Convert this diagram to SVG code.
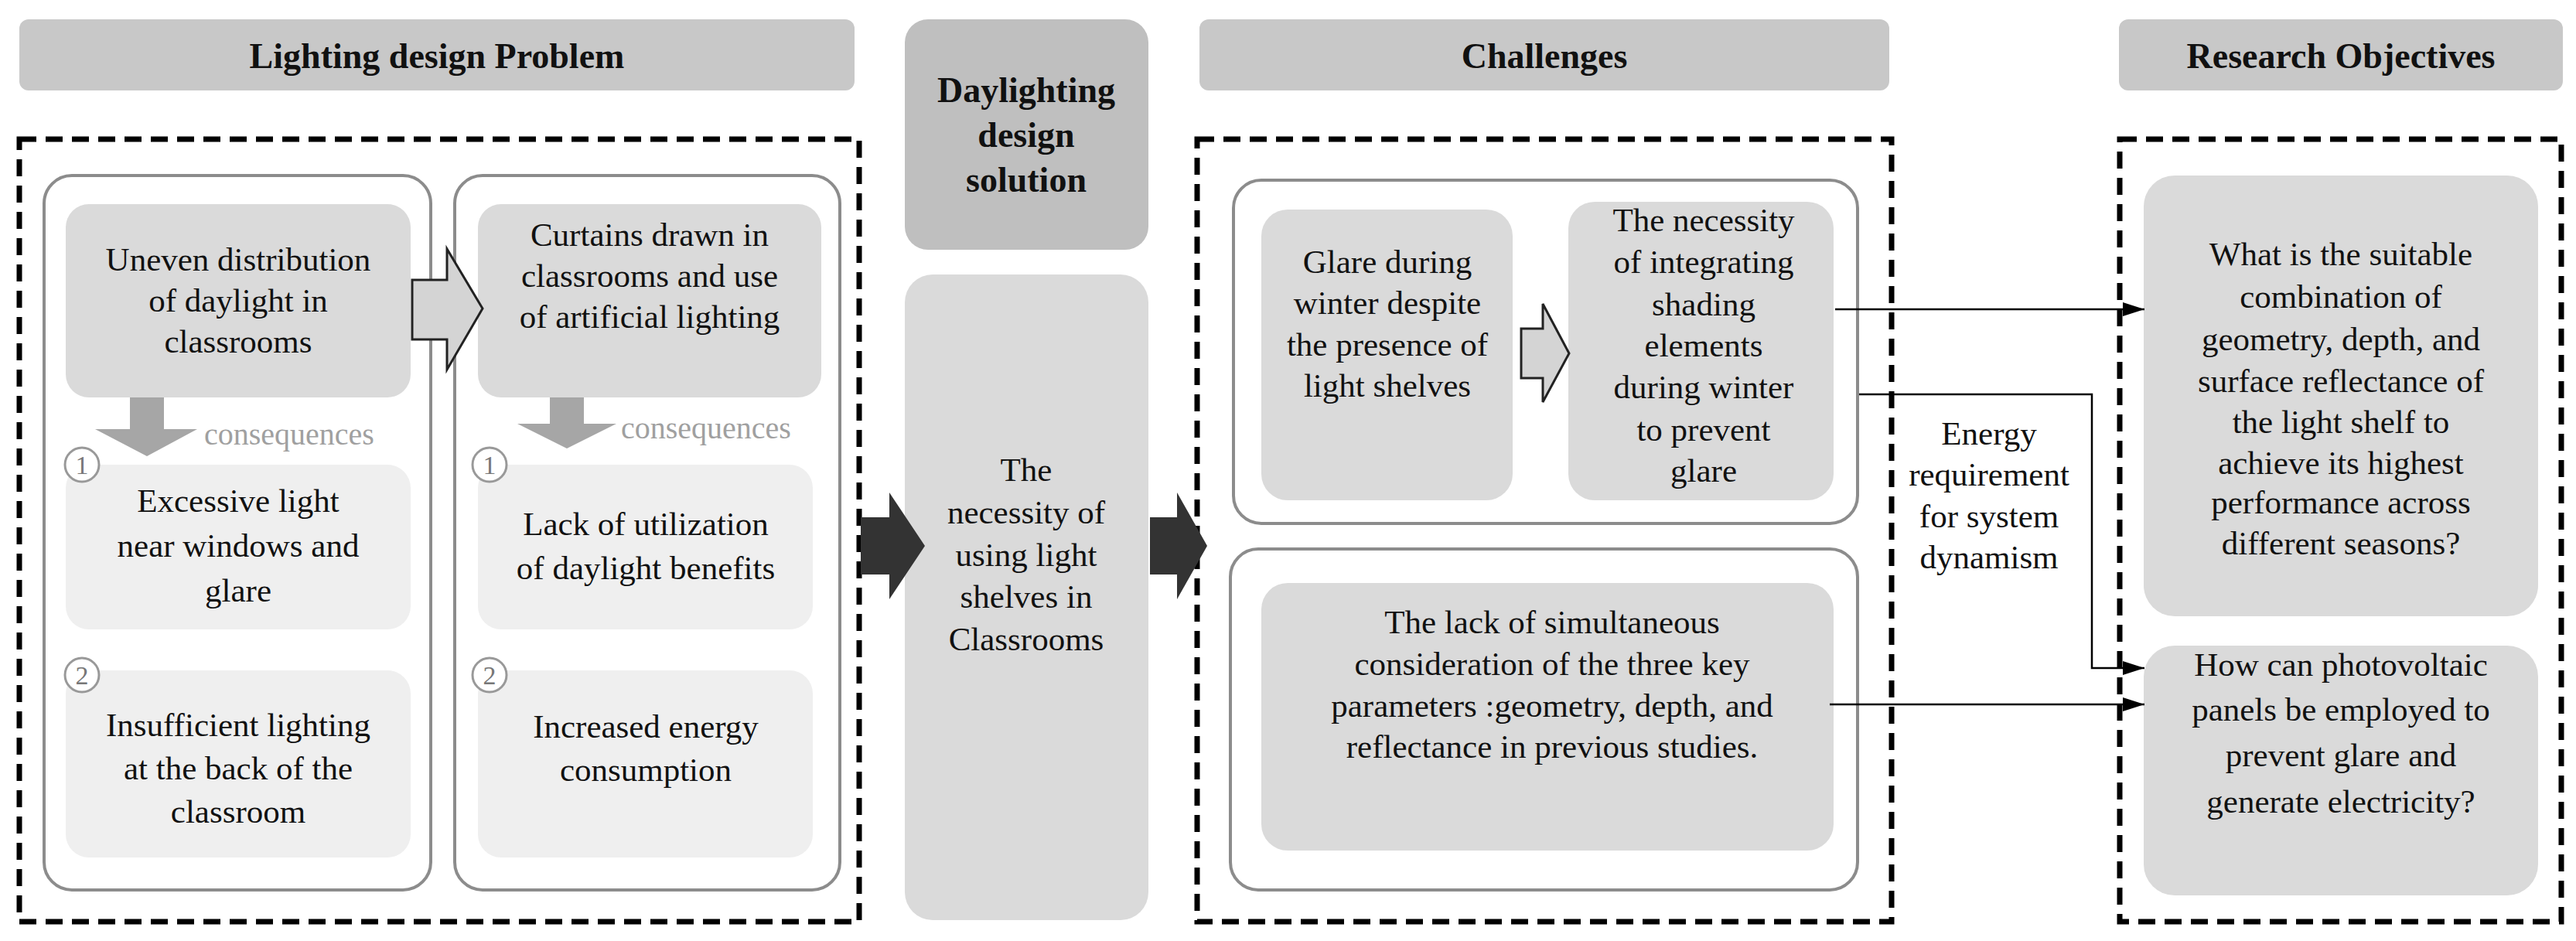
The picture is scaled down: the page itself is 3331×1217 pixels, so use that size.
<svg xmlns="http://www.w3.org/2000/svg" width="3331" height="1217" viewBox="0 0 3331 1217">
<defs>
<style>
text{font-family:"Liberation Serif","Times New Roman",serif;fill:#111;text-anchor:middle}
.t{font-size:43px}
.h{font-size:46px;font-weight:bold}
.c{font-size:40px;fill:#a0a0a0;text-anchor:start}
.n{font-size:34px;fill:#777}
.hdr{fill:#c8c8c8}
.dash{fill:none;stroke:#000;stroke-width:7;stroke-dasharray:22,12}
.outer{fill:#fff;stroke:#8c8c8c;stroke-width:4}
.g{fill:#dadada}
.lg{fill:#efefef}
.circ{fill:#fff;stroke:#999;stroke-width:3}
.con{fill:none;stroke:#000;stroke-width:2.5}
</style>
<marker id="ah" markerWidth="12" markerHeight="10" refX="11" refY="5" orient="auto" markerUnits="userSpaceOnUse"><path d="M0,0 L12,5 L0,10 z" fill="#000"/></marker>
<marker id="ah2" viewBox="0 0 10 10" markerWidth="28" markerHeight="18" refX="10" refY="5" orient="auto" markerUnits="userSpaceOnUse" preserveAspectRatio="none"><path d="M0,0 L10,5 L0,10 z" fill="#000"/></marker>
</defs>
<rect width="3331" height="1217" fill="#fff"/>

<g id="headers">
<rect class="hdr" x="25" y="25" width="1080" height="92" rx="12"/>
<text class="h" x="565" y="88">Lighting design Problem</text>
<rect class="hdr" x="1551" y="25" width="892" height="92" rx="12"/>
<text class="h" x="1997" y="88">Challenges</text>
<rect class="hdr" x="2740" y="25" width="574" height="92" rx="12"/>
<text class="h" x="3027" y="88">Research Objectives</text>
</g>

<g id="frames">
<rect class="dash" x="25" y="180" width="1086" height="1012"/>
<rect class="dash" x="1548" y="180" width="898" height="1012"/>
<rect class="dash" x="2741" y="180" width="571" height="1012"/>
</g>

<g id="problem-1">
<rect class="outer" x="57" y="227" width="500" height="924" rx="36"/>
<rect class="g" x="85" y="264" width="446" height="250" rx="30"/>
<text class="t"><tspan x="308" y="350">Uneven distribution</tspan><tspan x="308" y="403">of daylight in</tspan><tspan x="308" y="456">classrooms</tspan></text>
<path d="M168,514 H212 V555 H255 L190,590 L123,555 H168 Z" fill="#a6a6a6"/>
<text class="c" x="264" y="575">consequences</text>
<rect class="lg" x="85" y="601" width="446" height="213" rx="30"/>
<circle class="circ" cx="106" cy="601" r="22"/>
<text class="n" x="106" y="613">1</text>
<text class="t"><tspan x="308" y="662">Excessive light</tspan><tspan x="308" y="720">near windows and</tspan><tspan x="308" y="778">glare</tspan></text>
<rect class="lg" x="85" y="867" width="446" height="242" rx="30"/>
<circle class="circ" cx="106" cy="873" r="22"/>
<text class="n" x="106" y="885">2</text>
<text class="t"><tspan x="308" y="952">Insufficient lighting</tspan><tspan x="308" y="1008">at the back of the</tspan><tspan x="308" y="1064">classroom</tspan></text>
</g>

<g id="problem-2">
<rect class="outer" x="588" y="227" width="498" height="924" rx="36"/>
<rect class="g" x="618" y="264" width="444" height="250" rx="30"/>
<text class="t"><tspan x="840" y="318">Curtains drawn in</tspan><tspan x="840" y="371">classrooms and use</tspan><tspan x="840" y="424">of artificial lighting</tspan></text>
<path d="M711,514 H755 V548 H797 L733,580 L669,548 H711 Z" fill="#a6a6a6"/>
<text class="c" x="803" y="567">consequences</text>
<rect class="lg" x="618" y="601" width="433" height="213" rx="30"/>
<circle class="circ" cx="633" cy="601" r="22"/>
<text class="n" x="633" y="613">1</text>
<text class="t"><tspan x="835" y="692">Lack of utilization</tspan><tspan x="835" y="749">of daylight benefits</tspan></text>
<rect class="lg" x="618" y="867" width="433" height="242" rx="30"/>
<circle class="circ" cx="633" cy="873" r="22"/>
<text class="n" x="633" y="885">2</text>
<text class="t"><tspan x="835" y="954">Increased energy</tspan><tspan x="835" y="1010">consumption</tspan></text>
</g>

<g id="solution">
<rect x="1170" y="25" width="315" height="298" rx="30" fill="#bfbfbf"/>
<text class="h"><tspan x="1327" y="132">Daylighting</tspan><tspan x="1327" y="190">design</tspan><tspan x="1327" y="248">solution</tspan></text>
<rect class="g" x="1170" y="355" width="315" height="835" rx="36"/>
<text class="t"><tspan x="1327" y="622">The</tspan><tspan x="1327" y="677">necessity of</tspan><tspan x="1327" y="732">using light</tspan><tspan x="1327" y="786">shelves in</tspan><tspan x="1327" y="841">Classrooms</tspan></text>
</g>

<g id="challenge-1">
<rect class="outer" x="1595" y="233" width="807" height="444" rx="36"/>
<rect class="g" x="1631" y="271" width="325" height="376" rx="34"/>
<text class="t"><tspan x="1794" y="353">Glare during</tspan><tspan x="1794" y="406">winter despite</tspan><tspan x="1794" y="460">the presence of</tspan><tspan x="1794" y="513">light shelves</tspan></text>
<rect class="g" x="2028" y="261" width="343" height="386" rx="34"/>
<text class="t"><tspan x="2203" y="299">The necessity</tspan><tspan x="2203" y="353">of integrating</tspan><tspan x="2203" y="408">shading</tspan><tspan x="2203" y="461">elements</tspan><tspan x="2203" y="515">during winter</tspan><tspan x="2203" y="570">to prevent</tspan><tspan x="2203" y="623">glare</tspan></text>
</g>

<g id="challenge-2">
<rect class="outer" x="1591" y="710" width="811" height="441" rx="36"/>
<rect class="g" x="1631" y="754" width="740" height="346" rx="34"/>
<text class="t"><tspan x="2007" y="819">The lack of simultaneous</tspan><tspan x="2007" y="873">consideration  of the three key</tspan><tspan x="2007" y="927">parameters :geometry, depth, and</tspan><tspan x="2007" y="980">reflectance in previous studies.</tspan></text>
</g>

<g id="energy-label">
<text class="t"><tspan x="2572" y="575">Energy</tspan><tspan x="2572" y="628">requirement</tspan><tspan x="2572" y="682">for system</tspan><tspan x="2572" y="735">dynamism</tspan></text>
</g>

<g id="objective-1">
<rect class="g" x="2772" y="227" width="510" height="570" rx="40"/>
<text class="t"><tspan x="3027" y="343">What is the suitable</tspan><tspan x="3027" y="398">combination of</tspan><tspan x="3027" y="453">geometry, depth, and</tspan><tspan x="3027" y="507">surface reflectance of</tspan><tspan x="3027" y="560">the light shelf to</tspan><tspan x="3027" y="613">achieve its highest</tspan><tspan x="3027" y="664">performance across</tspan><tspan x="3027" y="717">different seasons?</tspan></text>
</g>

<g id="objective-2">
<rect class="g" x="2772" y="835" width="510" height="323" rx="40"/>
<text class="t"><tspan x="3027" y="874">How can photovoltaic</tspan><tspan x="3027" y="932">panels be employed to</tspan><tspan x="3027" y="991">prevent glare and</tspan><tspan x="3027" y="1051">generate electricity?</tspan></text>
</g>

<g id="connectors">
<path d="M533,362 H578 V322 L624,399 L578,478 V439 H533 Z" fill="#d4d4d4" stroke="#222" stroke-width="3"/>
<path d="M1967,425 H1995 V393 L2029,457 L1995,520 V489 H1967 Z" fill="#d4d4d4" stroke="#222" stroke-width="3"/>
<path d="M1113,669 H1150 V637 L1196,706 L1150,775 V743 H1113 Z" fill="#333"/>
<path d="M1487,669 H1522 V637 L1561,706 L1522,775 V743 H1487 Z" fill="#333"/>
<line class="con" x1="2373" y1="400" x2="2773" y2="400" marker-end="url(#ah2)"/>
<polyline class="con" points="2404,510 2705,510 2705,864 2773,864" marker-end="url(#ah2)"/>
<line class="con" x1="2366" y1="911" x2="2773" y2="911" marker-end="url(#ah2)"/>
</g>
</svg>
